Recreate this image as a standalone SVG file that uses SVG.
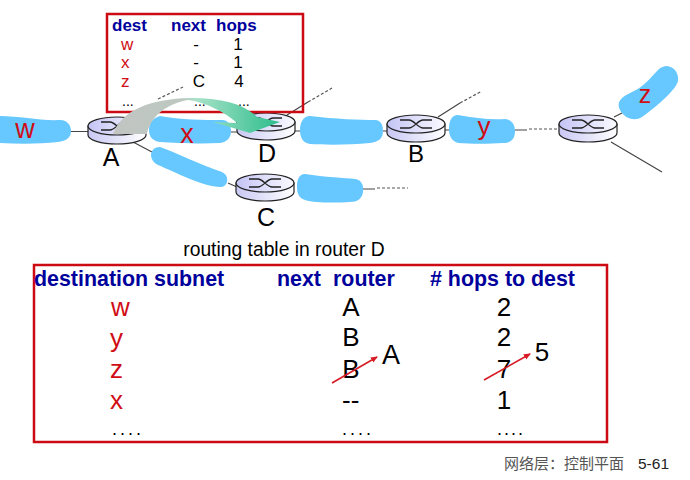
<svg xmlns="http://www.w3.org/2000/svg" width="690" height="480" viewBox="0 0 690 480">
<style>
text{font-family:"Liberation Sans",Arial,sans-serif;fill:#000}
.h{font-weight:bold;fill:#00009c}
.r{fill:#d00c14}
.s1{font-size:17px}
.h1{font-size:17px}
.hd{font-size:21.4px}
.big{font-size:26px}
.lab{font-size:25px}
.dots{font-size:18px;letter-spacing:3px}
.m{text-anchor:middle}
.blob{fill:#66c8ff}
.ln{stroke:#444;stroke-width:1.2;fill:none}
.ds{stroke:#555;stroke-width:1.2;fill:none;stroke-dasharray:3 2}
.fr{fill:none;stroke:#cc0a14;stroke-width:2.5}
.xs{stroke:#222;stroke-width:1.3;fill:none}
.rb{fill:url(#rg);stroke:#222;stroke-width:1.2}
.rt{fill:url(#rg2);stroke:#222;stroke-width:1.2}
.ra{stroke:#d81a24;stroke-width:1.6;fill:none;marker-end:url(#ah)}
</style>
<defs>
<linearGradient id="rg"><stop offset="0" stop-color="#c8c8f4"/><stop offset="1" stop-color="#fff"/></linearGradient>
<linearGradient id="rg2"><stop offset="0" stop-color="#c4c4f6"/><stop offset="1" stop-color="#fafaff"/></linearGradient>
<linearGradient id="fl" gradientUnits="userSpaceOnUse" x1="113" y1="0" x2="280" y2="0"><stop offset="0" stop-color="#c2c5c2"/><stop offset=".42" stop-color="#bcc8c0"/><stop offset=".5" stop-color="#a8e2c8"/><stop offset="1" stop-color="#2bbd8c"/></linearGradient>
<marker id="ah" markerWidth="8" markerHeight="8" refX="6" refY="3" orient="auto" markerUnits="userSpaceOnUse"><path d="M0 0L7 3L0 6z" fill="#d81a24"/></marker>
<g id="rs"><path class="rb" d="M-29 -4V5A29 9 0 0 0 29 5V-4z"/><ellipse class="rt" cx="0" cy="-4" rx="29" ry="9"/><path class="xs" d="M-16 -8H-7C-2 -8 2 0 7 0H16M-16 0H-7C-2 0 2 -8 7 -8H16"/></g>
</defs>
<g id="connectors">
<path class="ln" d="M70 131.5H90M231 132H238M295 131H302M383 131H389M445 130H450M515 130H527M622 113L614 117M611 142L662 172M133 142L152 152M228 183L237 187M363 189H375M438 117L460 103M287 115L308 102"/>
<path class="ds" d="M529 129H559M377 188H408M158 99L183 87M308 102L332 88M460 103L482 91"/>
</g>
<g id="blobs">
<path id="blob-w" class="blob" d="M0 116C20 116 40 121 60 120C68 120 71 126 71 131C71 138 66 141 58 142C40 144 20 144 0 143z"/>
<path id="blob-x" class="blob" d="M160 116C180 120 205 120 222 120C229 120 231 126 231 131C231 138 227 142 220 143C200 144 175 143 160 142C152 141 149 136 149 130C149 124 152 118 160 116z"/>
<path id="blob-ac" class="blob" d="M160 147C175 152 200 165 222 172C229 175 229 185 222 187C205 188 175 172 158 165C148 160 149 147 160 147z"/>
<path id="blob-db" class="blob" d="M310 116C335 119 360 120 375 120C382 120 383 127 383 131C383 139 378 142 370 143C350 145 325 145 310 144C302 143 300 136 300 130C300 123 303 116 310 116z"/>
<path id="blob-y" class="blob" d="M458 115C475 118 490 120 505 119C513 120 515 126 515 131C515 139 511 143 503 143C490 144 470 144 458 143C451 141 449 135 449 129C449 122 451 115 458 115z"/>
<path id="blob-z" class="blob" d="M667 66C675 67 679 74 678 81C676 90 655 108 642 117C634 122 624 118 620 110C616 102 621 97 632 92C645 86 650 78 658 70C661 67 664 66 667 66z"/>
<path id="blob-c" class="blob" d="M305 174C325 177 345 178 355 179C362 180 364 186 363 192C362 199 357 202 350 202C335 203 315 203 305 200C298 198 297 192 297 186C297 180 299 174 305 174z"/>
</g>
<g id="router-A"><use href="#rs" x="117" y="130"/><text class="lab m" x="111" y="166">A</text></g>
<g id="router-D"><use href="#rs" x="266" y="126"/><text class="lab m" x="267" y="162">D</text></g>
<g id="router-C"><use href="#rs" x="265" y="187"/><text class="lab m" x="266" y="226">C</text></g>
<g id="router-B"><use href="#rs" x="416" y="128"/><text class="m" x="416" y="162" style="font-size:24px">B</text></g>
<g id="router-E"><use href="#rs" x="588" y="128"/></g>
<text class="r m" x="25" y="138" style="font-size:27px">w</text>
<text class="r m" x="187" y="143" style="font-size:27px">x</text>
<text class="r m" x="484" y="135" style="font-size:26px">y</text>
<text class="r m" x="645" y="103" style="font-size:25px">z</text>
<g id="table-A">
<rect class="fr" x="107" y="14" width="196" height="98"/>
<text class="h h1" x="112" y="31">dest</text><text class="h h1" x="171" y="31">next</text><text class="h h1" x="216" y="31">hops</text>
<text class="r s1" x="121" y="50">w</text><text class="s1 m" x="196" y="50">-</text><text class="s1 m" x="238" y="50">1</text>
<text class="r s1" x="121" y="68">x</text><text class="s1 m" x="196" y="68">-</text><text class="s1 m" x="238" y="68">1</text>
<text class="r s1" x="121" y="87">z</text><text class="s1 m" x="199" y="87">C</text><text class="s1 m" x="239" y="87">4</text>
<text x="122" y="106" style="font-size:14px">...</text><text x="194" y="106" style="font-size:14px">...</text><text x="238" y="106" style="font-size:14px">...</text>
</g>
<path id="arrow" fill="url(#fl)" d="M113 134C122 110 150 99 190 98C225 98 245 105 257 117L280 122L250 133L213 122L237 123C225 112 205 102 188 100C165 104 150 118 147 134z"/>
<text x="284" y="256" class="m" style="font-size:19.3px">routing table in router D</text>
<g id="table-D">
<rect class="fr" x="34" y="265" width="573" height="177"/>
<text class="h hd" x="34" y="286">destination subnet</text>
<text class="h hd" x="277" y="286">next</text><text class="h hd" x="333" y="286">router</text>
<text class="h hd" x="430" y="286"># hops to dest</text>
<text class="r big" x="111" y="316">w</text><text class="r big" x="110" y="347">y</text><text class="r big" x="110" y="378">z</text><text class="r big" x="110" y="409">x</text><text class="dots" x="112" y="435">....</text>
<text class="big m" x="351" y="316">A</text><text class="big m" x="351" y="346">B</text><text class="big m" x="351" y="378">B</text><text class="big" x="342" y="409">--</text><text class="dots" x="342" y="435">....</text>
<text class="big m" x="504" y="316">2</text><text class="big m" x="504" y="346">2</text><text class="big m" x="504" y="378">7</text><text class="big m" x="504" y="409">1</text><text class="dots" style="letter-spacing:2px" x="497" y="435">....</text>
<text class="m" x="391" y="364" style="font-size:27px">A</text><text class="big m" x="542" y="361">5</text>
<path class="ra" d="M332 383L377 357"/>
<path class="ra" d="M484 380L530 354"/>
</g>
<text x="504" y="469" style="font-size:15px;font-family:'Noto Sans CJK SC',sans-serif;fill:#555">网络层：控制平面</text>
<text x="638" y="469" style="font-size:15.5px;fill:#222">5-61</text>
</svg>
